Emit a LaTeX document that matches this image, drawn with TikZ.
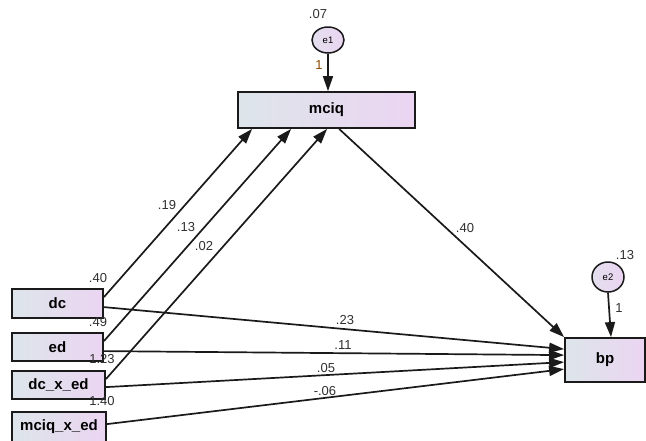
\documentclass[tikz,border=0pt]{standalone}
\usepackage{fontspec}
\setmainfont{Liberation Sans}
\usetikzlibrary{arrows.meta,shapes.geometric}
\definecolor{boxL}{HTML}{DDE5EA}
\definecolor{boxR}{HTML}{EBD5F2}
\definecolor{edge}{HTML}{1A1A1A}
\definecolor{numc}{HTML}{303030}
\definecolor{onec}{HTML}{8A4A00}
\tikzset{
  obs/.style={rectangle, draw=edge, line width=1.8pt, left color=boxL, right color=boxR,
    inner sep=0pt, font=\fontsize{15}{18}\selectfont\bfseries},
  err/.style={ellipse, draw=edge, line width=1.5pt, left color=boxL!60!boxR, right color=boxR,
    inner sep=0pt, font=\fontsize{9.5}{11}\selectfont},
  path/.style={draw=edge, line width=1.7pt, -{Triangle[length=15pt,width=10pt]}},
  num/.style={font=\fontsize{13}{15}\selectfont, text=numc, inner sep=0pt}
}
\begin{document}
\begin{tikzpicture}[x=1pt,y=-1pt]
\useasboundingbox (0,0) rectangle (646,440);
\fill[white] (0,0) rectangle (646,440);
% observed variables
\node[obs, minimum width=177pt, minimum height=36pt] (mciq) at (326.5,110) {mciq};
\node[obs, minimum width=80pt, minimum height=44pt] (bp) at (605,360) {bp};
\node[obs, minimum width=91pt, minimum height=29pt] (dc) at (57.5,303.5) {dc};
\node[obs, minimum width=91pt, minimum height=28pt] (ed) at (57.5,347) {ed};
\node[obs, minimum width=93pt, minimum height=28pt] (dcxed) at (58.5,385) {dc\_x\_ed};
\node[obs, minimum width=94pt, minimum height=30pt] (mxed) at (59,427) {mciq\_x\_ed};
% errors
\node[err, minimum width=32pt, minimum height=26pt] (e1) at (328,40) {e1};
\node[err, minimum width=32pt, minimum height=30pt] (e2) at (608,277) {e2};
% paths
\draw[path] (e1.south) -- (e1.south |- mciq.north);
\draw[path] (e2.south) -- ([xshift=6pt]bp.north);
\draw[path] ([yshift=-9pt]dc.north east) -- ([xshift=15pt]mciq.south west);
\draw[path] ([yshift=-9pt]ed.north east) -- ([xshift=54pt]mciq.south west);
\draw[path] ([yshift=-9pt]dcxed.north east) -- ([xshift=90pt]mciq.south west);
\draw[path] ([xshift=102pt]mciq.south west) -- (bp.north west);
\draw[path] ([yshift=-19pt]dc.north east) -- ([yshift=-12pt]bp.north west);
\draw[path] ([yshift=-19pt]ed.north east) -- ([yshift=-18pt]bp.north west);
\draw[path] ([yshift=-17pt]dcxed.north east) -- ([yshift=-25pt]bp.north west);
\draw[path] ([yshift=-13pt]mxed.north east) -- ([yshift=-32pt]bp.north west);
% labels
\node[num] (l07) at (318,14) {.07};
\node[num, text=onec] (l1a) at (319,65) {1};
\node[num] (l13b) at (625,255) {.13};
\node[num] (l1b) at (619,308) {1};
\node[num] (l40a) at (98,278) {.40};
\node[num] (l49) at (98,322) {.49};
\node[num] (l123) at (102,359) {1.23};
\node[num] (l140) at (102,401) {1.40};
\node[num] (l19) at (167,205) {.19};
\node[num] (l13) at (186,227) {.13};
\node[num] (l02) at (204,246) {.02};
\node[num] (l40b) at (465,228) {.40};
\node[num] (l23) at (345,320) {.23};
\node[num] (l11) at (343,345) {.11};
\node[num] (l05) at (326,368) {.05};
\node[num] (l06) at (325,391) {-.06};
\end{tikzpicture}
\end{document}
